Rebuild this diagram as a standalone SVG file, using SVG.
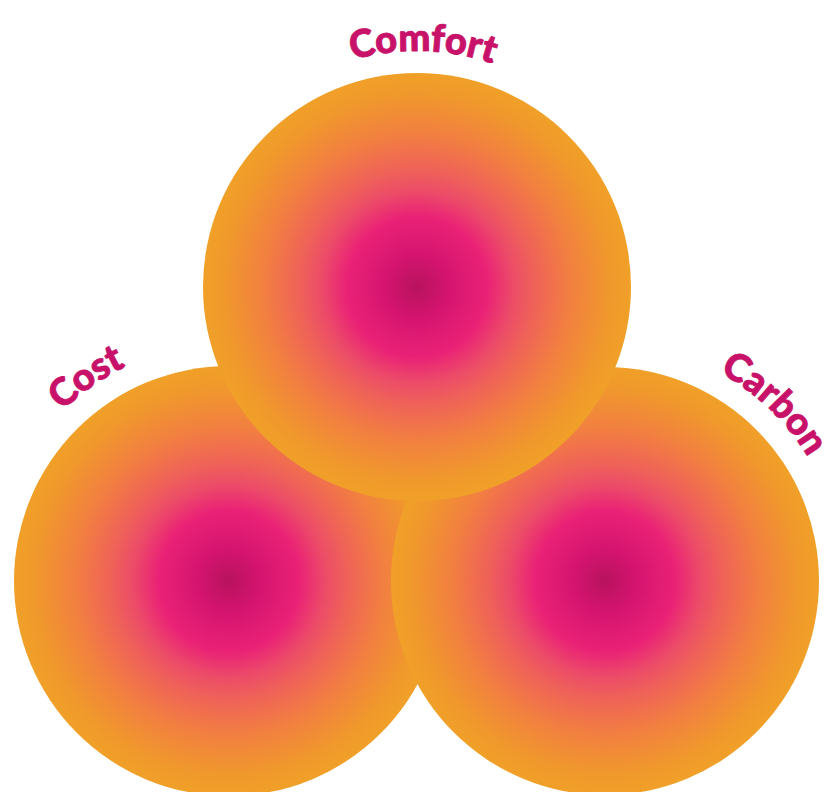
<svg xmlns="http://www.w3.org/2000/svg" width="830" height="792" viewBox="0 0 830 792">
<style>
.lbl{font-family:"Lato","Open Sans","Liberation Sans",sans-serif;font-weight:900;font-size:38px;fill:#c8126a;stroke:#c8126a;stroke-width:0.9;stroke-linejoin:round;}
.c{fill:url(#rg);}
</style>
<defs>
<radialGradient id="rg">
<stop offset="0" stop-color="#b8125e"/>
<stop offset="0.15" stop-color="#d51470"/>
<stop offset="0.33" stop-color="#ea2276"/>
<stop offset="0.45" stop-color="#ec4c68"/>
<stop offset="0.55" stop-color="#ef6258"/>
<stop offset="0.72" stop-color="#f28040"/>
<stop offset="0.9" stop-color="#f0982c"/>
<stop offset="1" stop-color="#f0a028"/>
</radialGradient>
<path id="pComfort" d="M212.6,169 A236,236 0 0,1 621.4,169"/>
<path id="pCost" d="M-7.9,557.8 A238,238 0 0,1 293,351.8"/>
<path id="pCarbon" d="M581.4,344.2 A238,238 0 0,1 842.3,598.8"/>
</defs>
<g id="cost"><circle class="c" cx="229" cy="581" r="215"/></g>
<g id="carbon"><circle class="c" cx="605" cy="581" r="214"/></g>
<g id="comfort"><circle class="c" cx="417" cy="287" r="214"/></g>
<g id="labels">
<text class="lbl" text-anchor="middle"><textPath href="#pComfort" startOffset="253">Comfort</textPath></text>
<text class="lbl" text-anchor="middle"><textPath href="#pCost" startOffset="205">Cost</textPath></text>
<text class="lbl" text-anchor="middle"><textPath href="#pCarbon" startOffset="205">Carbon</textPath></text>
</g>
</svg>
